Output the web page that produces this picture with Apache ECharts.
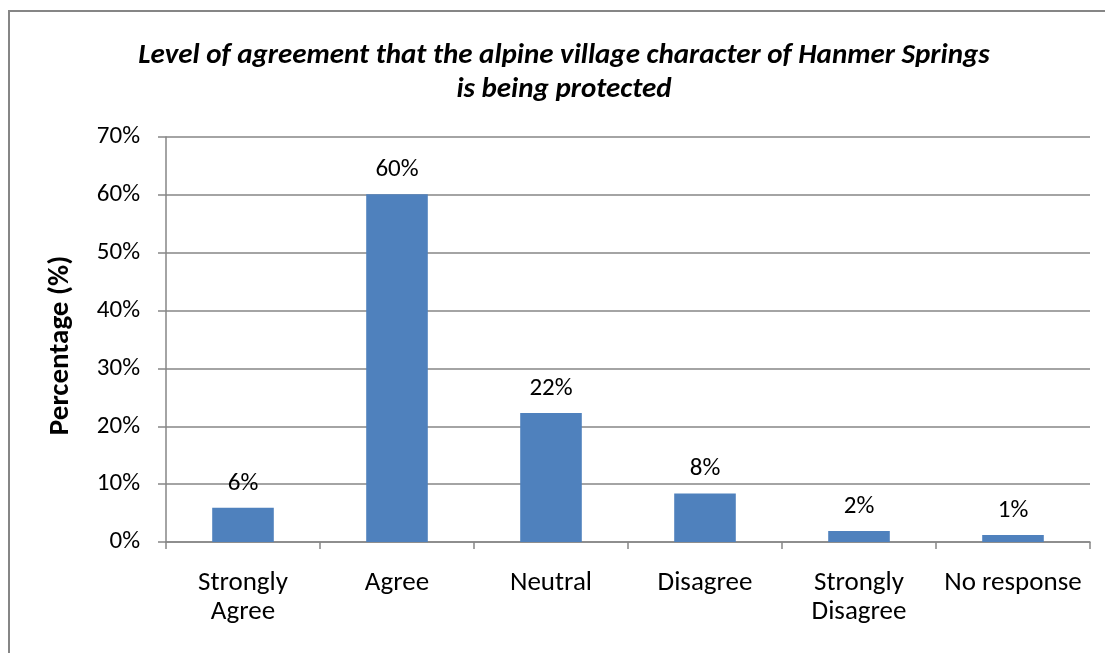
<!DOCTYPE html>
<html>
<head>
<meta charset="utf-8">
<script src="https://cdn.jsdelivr.net/npm/echarts@6/dist/echarts.min.js"></script>
<style>
  html, body { margin: 0; padding: 0; background: #ffffff; }
  #chart { width: 1105px; height: 653px; }
</style>
</head>
<body>
<div id="chart"></div>
<script>
// Survey responses: share of respondents per answer (percent)
const categories = ['Strongly\nAgree', 'Agree', 'Neutral', 'Disagree', 'Strongly\nDisagree', 'No response'];
const percentages = [5.9, 60.1, 22.3, 8.4, 1.9, 1.2];
const yTicks = [0, 10, 20, 30, 40, 50, 60, 70];

const titleLines = [
  'Level of agreement that the alpine village character of Hanmer Springs',
  'is being protected'
];
const yAxisTitle = 'Percentage (%)';

const FONT = 'Carlito, Lato, "Open Sans", sans-serif';
const GRID_GREY = '#868686';

const chart = echarts.init(document.getElementById('chart'), null, { renderer: 'canvas' });

chart.setOption({
  animation: false,
  backgroundColor: '#ffffff',
  graphic: [
    {
      type: 'rect',
      shape: { x: 9, y: 11, width: 1200, height: 800 },
      style: { fill: 'none', stroke: GRID_GREY, lineWidth: 2 },
      silent: true
    },
    {
      type: 'text',
      x: 564,
      y: 73,
      style: {
        text: titleLines.join('\n'),
        fontFamily: FONT,
        fontSize: 29,
        fontWeight: 'bold',
        fontStyle: 'italic',
        lineHeight: 34,
        fill: '#000000',
        align: 'center',
        verticalAlign: 'middle'
      }
    }
  ],
  grid: { left: 166, right: 15, top: 137, bottom: 111, containLabel: false },
  xAxis: {
    type: 'category',
    data: categories,
    axisLine: { show: true, lineStyle: { color: GRID_GREY, width: 1.5 } },
    axisTick: { show: true, length: 7, lineStyle: { color: GRID_GREY, width: 1.5 } },
    axisLabel: {
      color: '#000000',
      fontFamily: FONT,
      fontSize: 27,
      lineHeight: 29,
      margin: 27,
      interval: 0
    }
  },
  yAxis: {
    type: 'value',
    min: 0,
    max: 70,
    interval: 10,
    name: yAxisTitle,
    nameLocation: 'middle',
    nameGap: 91,
    nameTextStyle: {
      color: '#000000',
      fontFamily: FONT,
      fontSize: 29,
      fontWeight: 'bold',
      padding: [0, 12, 0, 0]
    },
    axisLine: { show: true, lineStyle: { color: GRID_GREY, width: 1.5 } },
    axisTick: { show: true, length: 8, lineStyle: { color: GRID_GREY, width: 1.5 } },
    splitLine: { show: true, lineStyle: { color: GRID_GREY, width: 1.5 } },
    axisLabel: {
      color: '#000000',
      fontFamily: FONT,
      fontSize: 25,
      margin: 26,
      formatter: function (v) { return yTicks.indexOf(v) >= 0 ? v + '%' : ''; }
    }
  },
  series: [
    {
      type: 'bar',
      data: percentages,
      barWidth: '40%',
      itemStyle: { color: '#4F81BD' },
      label: {
        show: true,
        position: 'top',
        distance: 12,
        color: '#000000',
        fontFamily: FONT,
        fontSize: 25,
        formatter: function (p) { return Math.round(p.value) + '%'; }
      }
    }
  ]
});
</script>
</body>
</html>
